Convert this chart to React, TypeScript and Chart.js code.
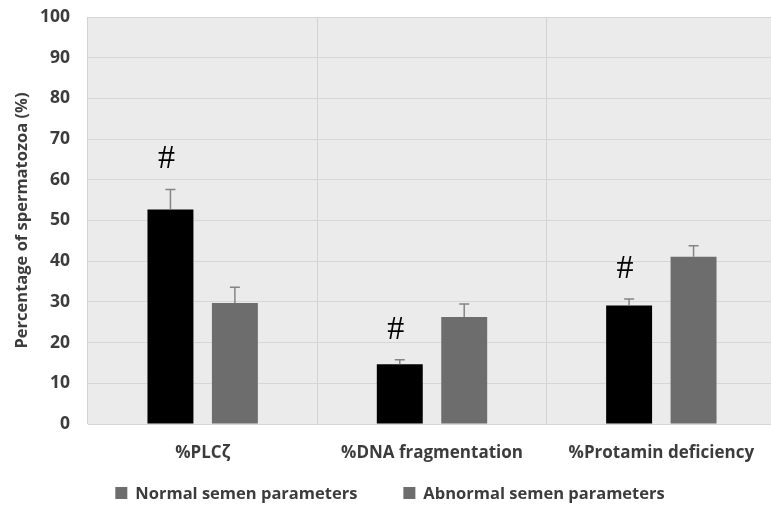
import React, { useEffect, useRef } from "react";
import { Chart, registerables } from "chart.js";

Chart.register(...registerables);

const categories = ["%PLCζ", "%DNA fragmentation", "%Protamin deficiency"];
const seriesNames = ["Normal semen parameters", "Abnormal semen parameters"];
const normalValues = [52.7, 14.7, 29.1];
const normalErrors = [4.9, 1.1, 1.6];
const abnormalValues = [29.7, 26.3, 41.1];
const abnormalErrors = [3.9, 3.2, 2.7];
const normalMarks = ["#", "#", "#"];
const abnormalMarks = ["", "", ""];
const yTicks = [0, 10, 20, 30, 40, 50, 60, 70, 80, 90, 100];
const yTitle = "Percentage of spermatozoa (%)";

const TEXT = "#3c3c3c";
const GRAY = "#6d6d6d";
const FONT = '"Open Sans", "Noto Sans", sans-serif';

const errorsBySeries = [normalErrors, abnormalErrors];
const marksBySeries = [normalMarks, abnormalMarks];

const plotBg = {
  id: "plotBg",
  beforeDraw(chart: any) {
    const { ctx, chartArea } = chart;
    ctx.save();
    ctx.fillStyle = "#ebebeb";
    ctx.fillRect(chartArea.left, chartArea.top, chartArea.right - chartArea.left, chartArea.bottom - chartArea.top);
    ctx.restore();
  },
};

const errorBars = {
  id: "errorBars",
  afterDatasetsDraw(chart: any) {
    const { ctx } = chart;
    const yScale = chart.scales.y;
    chart.data.datasets.forEach((ds: any, di: number) => {
      const meta = chart.getDatasetMeta(di);
      meta.data.forEach((bar: any, i: number) => {
        const v = ds.data[i];
        const err = errorsBySeries[di][i];
        const yTop = yScale.getPixelForValue(v + err);
        ctx.save();
        ctx.strokeStyle = "#858585";
        ctx.lineWidth = 1.5;
        ctx.beginPath();
        ctx.moveTo(bar.x, bar.y);
        ctx.lineTo(bar.x, yTop);
        ctx.moveTo(bar.x - 5, yTop);
        ctx.lineTo(bar.x + 5, yTop);
        ctx.stroke();
        const mark = marksBySeries[di][i];
        if (mark) {
          ctx.fillStyle = "#000";
          ctx.font = '34px "Liberation Serif", "DejaVu Serif", serif';
          ctx.textAlign = "center";
          ctx.textBaseline = "middle";
          ctx.fillText(mark, bar.x - 4, yTop - 30);
        }
        ctx.restore();
      });
    });
  },
};

const customLegend = {
  id: "customLegend",
  afterDraw(chart: any) {
    const { ctx } = chart;
    const box = 12;
    const gap = 8;
    const spacing = 46;
    ctx.save();
    ctx.font = `bold 16.5px ${FONT}`;
    const widths = seriesNames.map((n) => box + gap + ctx.measureText(n).width);
    const total = widths.reduce((a, b) => a + b, 0) + spacing * (seriesNames.length - 1);
    let x = chart.width / 2 - total / 2;
    const cy = 493;
    seriesNames.forEach((n, i) => {
      ctx.fillStyle = GRAY;
      ctx.fillRect(x, cy - box / 2, box, box);
      ctx.fillStyle = TEXT;
      ctx.textAlign = "left";
      ctx.textBaseline = "middle";
      ctx.fillText(n, x + box + gap, cy + 1);
      x += widths[i] + spacing;
    });
    ctx.restore();
  },
};

export default function App() {
  const canvasRef = useRef<HTMLCanvasElement | null>(null);

  useEffect(() => {
    if (!canvasRef.current) return;
    const chart = new Chart(canvasRef.current, {
      type: "bar",
      data: {
        labels: categories,
        datasets: [
          {
            label: seriesNames[0],
            data: normalValues,
            backgroundColor: "#000000",
            categoryPercentage: 0.562,
            barPercentage: 0.713,
          },
          {
            label: seriesNames[1],
            data: abnormalValues,
            backgroundColor: GRAY,
            categoryPercentage: 0.562,
            barPercentage: 0.713,
          },
        ],
      },
      options: {
        responsive: false,
        animation: false,
        devicePixelRatio: 1,
        layout: { padding: { top: 17, right: 4, bottom: 32, left: 0 } },
        plugins: {
          legend: { display: false },
          tooltip: { enabled: false },
        },
        scales: {
          x: {
            offset: true,
            grid: { offset: true, color: "#d2d2d2", drawTicks: false, lineWidth: 1 },
            border: { display: false },
            ticks: {
              color: TEXT,
              padding: 19,
              font: { family: FONT, size: 17, weight: "bold" },
            },
            afterFit(scale: any) {
              scale.height = 49;
              scale.paddingLeft = 0;
              scale.paddingRight = 0;
            },
          },
          y: {
            min: 0,
            max: 100,
            afterBuildTicks(scale: any) {
              scale.ticks = yTicks.map((v) => ({ value: v }));
            },
            grid: { color: "#d6d6d6", drawTicks: false, lineWidth: 1 },
            border: { display: false },
            ticks: {
              color: TEXT,
              padding: 18,
              font: { family: FONT, size: 17.5, weight: "bold" },
            },
            title: {
              display: true,
              text: yTitle,
              color: TEXT,
              padding: { top: 12, bottom: 0 },
              font: { family: FONT, size: 16.5, weight: "bold" },
            },
            afterFit(scale: any) {
              scale.width = 88;
              scale.paddingTop = 0;
              scale.paddingBottom = 0;
            },
          },
        },
      },
      plugins: [plotBg, errorBars, customLegend],
    });
    return () => chart.destroy();
  }, []);

  return (
    <div style={{ position: "fixed", left: 0, top: 0, width: 771, height: 505, overflow: "hidden", background: "#fff" }}>
      <canvas ref={canvasRef} width={780} height={505} style={{ display: "block" }} />
    </div>
  );
}
